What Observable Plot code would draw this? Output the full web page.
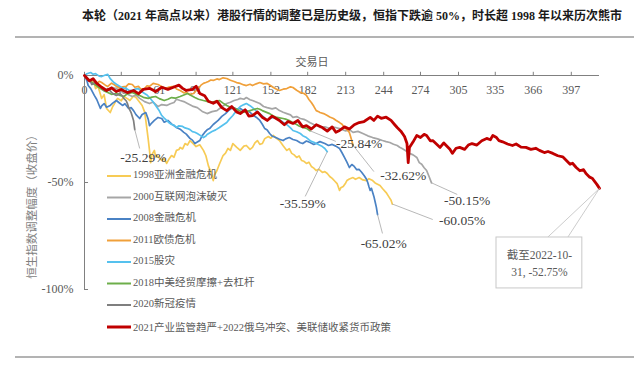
<!DOCTYPE html>
<html><head><meta charset="utf-8">
<script src="https://cdn.jsdelivr.net/npm/d3@7"></script>
<script src="https://cdn.jsdelivr.net/npm/@observablehq/plot@0.6"></script>
<style>body{margin:0;background:#fff;} svg{display:block}</style>
</head><body><div id="chart"></div>
<script>
// ---- data (trading day, % change from peak) ----
const s1998 = [[0,0],[2,-1.2],[5,-2.3],[7,-1.5],[9,-6.1],[11,-5],[14,-10.7],[16,-9],[18,-15.4],[21,-17.3],[23,-14.5],[24,-13.6],[26,-11.5],[27,-10.7],[30,-11.8],[32,-9.8],[35,-10.8],[37,-11.7],[40,-9.6],[42,-10.3],[45,-12.5],[47,-14],[49,-17],[50,-21],[52,-30],[53,-35],[54,-40.7],[55,-37],[57,-35],[58,-38],[59,-37.4],[61,-38.5],[63,-39.7],[65,-38.8],[67,-41.1],[69,-39],[71,-37.4],[73,-38.2],[75,-35],[77,-34.6],[78,-33.6],[80,-34.3],[82,-31.8],[84,-32.5],[86,-30.4],[88,-31.5],[91,-33.2],[94,-32.4],[97,-35],[99,-37.5],[101,-42.1],[103,-45],[105,-49.1],[106,-46.5],[108,-44.4],[110,-41.5],[113,-37.4],[115,-36.3],[117,-34.1],[119,-35],[121,-31.8],[124,-33.5],[127,-35],[130,-33],[132,-32.7],[135,-34.5],[137,-33.6],[139,-31.5],[141,-30.4],[143,-32.2],[145,-31.8],[147,-29.5],[150,-28.5],[152,-29.3],[154,-28],[156,-29.1],[159,-30.4],[162,-32.8],[165,-35],[167,-34.2],[169,-36.4],[171,-37.1],[173,-38.3],[175,-37.6],[177,-39.7],[179,-40.1],[181,-41.1],[183,-40.5],[185,-42.5],[187,-43.3],[189,-44.4],[191,-43.8],[194,-45.3],[196,-44.9],[198,-45.8],[200,-47.2],[202,-48.1],[204,-49.3],[206,-50.5],[208,-53.7],[209,-52.5],[211,-51.9],[213,-50.2],[214,-49.1],[216,-48.4],[219,-47.7],[221,-48.5],[224,-47.7],[227,-48.8],[230,-49.1],[232,-48.2],[235,-49.1],[237,-50.2],[239,-50.8],[241,-51.4],[243,-52.8],[246,-54.7],[248,-56.5],[250,-58.3],[251,-60.05]];
const s2000 = [[0,0],[3,-2],[6,-3.3],[9,-2.8],[13,-5.1],[16,-6.4],[19,-7],[22,-5.5],[26,-6.1],[29,-7.2],[32,-7.9],[35,-8.8],[39,-9.8],[42,-9.2],[45,-10.7],[49,-12.2],[53,-13.1],[56,-12.4],[60,-14.5],[63,-13.6],[67,-14],[70,-13.2],[73,-12.6],[75,-11.1],[78,-11.7],[81,-12.2],[84,-13.1],[88,-14.3],[92,-15],[96,-16.8],[100,-17.8],[104,-16.9],[108,-16.4],[112,-14.6],[116,-13.1],[119,-12.5],[122,-11.7],[125,-11.2],[127,-10.7],[130,-11.1],[132,-10.3],[135,-11.3],[137,-11.7],[140,-12.4],[143,-13.1],[146,-14.5],[149,-15],[153,-15.6],[156,-15.1],[159,-16.4],[162,-17.2],[165,-17.8],[168,-18.4],[170,-19.6],[173,-19.2],[176,-20.1],[179,-20.5],[181,-21],[184,-22.1],[187,-22.9],[190,-23.2],[192,-24.3],[196,-24],[200,-24.8],[204,-24.2],[208,-24.8],[213,-25.9],[216,-25.3],[219,-26.6],[223,-26.1],[227,-27.1],[231,-28.2],[235,-29],[239,-29.6],[243,-30.4],[246,-30.9],[249,-31.3],[252,-32.1],[255,-32.7],[257,-33.5],[259,-34.1],[262,-35.2],[265,-36.4],[268,-37.1],[271,-38.3],[273,-40.7],[275,-41.5],[277,-43.1],[279,-44.4],[281,-47.2],[283,-50.15]];
const s2008 = [[0,0],[2,-2.5],[3,-4.7],[5,-6],[8,-9.3],[10,-11.2],[13,-15.4],[14,-14.2],[16,-13.1],[18,-14.8],[21,-14],[23,-12.9],[26,-11.7],[28,-12.6],[31,-14],[33,-13.2],[36,-15.4],[38,-15],[40,-16.4],[42,-18.3],[45,-20.1],[47,-18.2],[50,-17.3],[52,-20.5],[53,-23.4],[55,-22.1],[57,-21],[60,-19.6],[63,-20.1],[65,-21.8],[68,-21],[71,-22.6],[75,-24.3],[78,-25.1],[81,-26.6],[83,-27.4],[86,-29.4],[88,-30.2],[90,-31.8],[92,-31.1],[94,-30.4],[96,-28.1],[98,-26.6],[100,-25.4],[102,-24.8],[105,-22.9],[109,-21],[112,-19.1],[115,-17.8],[118,-16.1],[121,-15],[124,-15.7],[127,-15.4],[130,-16.6],[132,-16.4],[135,-17.2],[138,-18.7],[140,-19.5],[143,-21],[145,-22.8],[147,-24.8],[149,-25.5],[151,-27.1],[153,-28.3],[156,-29],[159,-29.8],[162,-30.4],[164,-29.6],[167,-29],[170,-29.9],[173,-30.4],[176,-31.4],[178,-31.8],[181,-30.6],[184,-31.3],[187,-32.2],[189,-31.8],[192,-30.9],[196,-31.8],[199,-32.7],[202,-32.2],[205,-33],[208,-34.1],[210,-36.1],[212,-38.3],[214,-40.5],[216,-43],[218,-41.6],[220,-42.5],[222,-44],[224,-43.9],[226,-45.2],[228,-46.7],[230,-48.5],[231,-50],[232,-52],[233,-53.7],[234,-52.7],[236,-56.5],[237,-59],[238,-61.5],[239,-65.02]];
const s2011 = [[0,0],[2,-1.5],[5,-2.3],[7,-3.5],[9,-4.2],[12,-2.7],[14,-3.3],[17,-4.5],[19,-5.1],[22,-3.6],[24,-4.2],[27,-5.4],[29,-6.1],[31,-5.3],[34,-5.1],[36,-3.9],[39,-4.2],[41,-5.5],[44,-5.1],[46,-6.4],[49,-6.1],[51,-4.8],[53,-5.1],[56,-3.7],[60,-4.2],[63,-5.2],[66,-6.1],[69,-5.4],[73,-5.1],[75,-6.3],[78,-7],[81,-8.1],[83,-7.9],[86,-8.9],[89,-8.4],[91,-7.1],[93,-6.1],[95,-4.5],[97,-3.7],[99,-3.3],[101,-2.8],[103,-2.1],[105,-2.3],[108,-1.6],[110,-1.9],[113,-1.1],[116,-1.4],[119,-2.2],[122,-2.8],[124,-3.3],[127,-3.7],[130,-4.4],[132,-4.7],[135,-4.1],[137,-4.7],[140,-3.9],[143,-3.3],[146,-3.9],[149,-3.7],[152,-4.8],[154,-5.6],[157,-6.5],[159,-7],[162,-6.4],[165,-6.1],[168,-5.3],[170,-5.6],[173,-6.9],[176,-7.9],[179,-8.4],[181,-9.3],[183,-11.2],[185,-12.6],[187,-14.4],[189,-16.4],[191,-16.9],[192,-17.3],[195,-17.8],[198,-18.7],[200,-19.4],[203,-20.1],[205,-20.9],[208,-22],[210,-22.8],[212,-24.3],[214,-25.3],[216,-26.6],[217,-28.5],[218,-30.5],[219,-32.62]];
const s2015 = [[0,0],[2,0.8],[5,1.4],[7,0.6],[9,0.9],[12,-0.3],[14,-0.5],[17,0.2],[19,0.5],[21,-1.5],[24,-3.3],[26,-4.1],[29,-5.1],[31,-5.8],[34,-6.1],[36,-6.8],[39,-7],[41,-6.4],[44,-6.1],[46,-7.3],[49,-8.4],[51,-9.1],[53,-10.3],[56,-12.4],[58,-14],[61,-16.5],[63,-18.7],[65,-19.9],[67,-21],[69,-22.1],[71,-22.9],[73,-23.2],[75,-24.3],[77,-23.5],[80,-23.8],[82,-24.5],[84,-24.8],[86,-25.3],[88,-26.2],[90,-26.5],[92,-27.1],[95,-28.2],[97,-29],[99,-28.3],[100,-27.6],[102,-26.9],[104,-26.2],[107,-25.4],[110,-24.3],[113,-23.1],[116,-22],[118,-20.5],[121,-18.7],[124,-16.4],[127,-14.5],[130,-13.6],[132,-13.1],[135,-14.1],[137,-15],[140,-16.5],[143,-17.8],[146,-19.3],[149,-21],[151,-20.2],[154,-19.6],[157,-20.3],[159,-20.6],[162,-21.8],[165,-22.9],[168,-24.5],[170,-25.7],[173,-26.3],[176,-27.1],[178,-28.1],[181,-29],[183,-30],[185,-30.8],[187,-31.2],[189,-31.8],[192,-32.6],[194,-33.2],[196,-34.1],[198,-35.59]];
const s2018 = [[0,0],[3,-1.8],[6,-3.3],[9,-4.5],[13,-6.1],[16,-7.2],[19,-7.9],[22,-8.8],[26,-8.4],[29,-9.3],[32,-9.8],[35,-8.6],[39,-7.9],[42,-8.7],[45,-9.3],[48,-10.2],[52,-10.7],[55,-10.1],[58,-9.8],[61,-10.8],[65,-11.7],[68,-11.1],[71,-10.3],[74,-10.6],[78,-9.8],[81,-9.1],[84,-8.4],[87,-9.4],[90,-10.3],[93,-11.1],[97,-11.7],[100,-12.1],[103,-12.6],[106,-12.2],[110,-11.7],[113,-12.9],[116,-14],[119,-14.8],[123,-15.4],[126,-16.3],[129,-17.3],[132,-16.9],[135,-16.4],[138,-15.9],[141,-15.4],[143,-15.8],[145,-16.4],[148,-17.1],[151,-17.8],[154,-18.9],[157,-19.6],[159,-19.8],[162,-20.1],[164,-20.4],[167,-21],[170,-22.1],[173,-22.9],[175,-23.6],[178,-24.3],[181,-24.7],[184,-25.84]];
const s2020 = [[0,0],[2,-1.1],[3,-2.3],[5,-3.1],[6,-4.2],[8,-3.6],[9,-3.3],[11,-4.3],[13,-5.1],[15,-6.2],[16,-7],[18,-6.6],[19,-6.1],[21,-7.2],[22,-7.9],[24,-8.8],[26,-9.3],[28,-8.9],[29,-8.4],[31,-9.6],[32,-10.7],[34,-11.8],[35,-13.1],[36,-14.9],[38,-17.3],[39,-19.2],[40,-21],[41,-25.29]];
const s2021 = [[0,0],[4,-2.5],[7,-1.5],[10,-3.7],[14,-5.5],[18,-7],[22,-5.8],[26,-7.5],[30,-6.5],[35,-8],[40,-7],[44,-8.5],[48,-6.5],[53,-6],[58,-7.5],[63,-5.5],[68,-6.5],[72,-5.6],[77,-4.5],[80,-6],[83,-7],[88,-6.5],[91,-5],[94,-8.4],[98,-9.5],[101,-12],[105,-13],[108,-12],[112,-15],[116,-16.4],[120,-14.5],[124,-17],[127,-17.8],[131,-16],[134,-19],[137,-18.7],[141,-17],[145,-19.5],[149,-21],[153,-19],[156,-20],[159,-21],[163,-23],[166,-21.5],[170,-22.4],[174,-21],[178,-24],[181,-23.4],[185,-25],[189,-23],[194,-24.3],[198,-26],[202,-24],[205,-26.5],[208,-25.7],[212,-24],[216,-25],[220,-23],[224,-22],[228,-21.5],[233,-19.6],[236,-21],[239,-19],[242,-20],[246,-19.5],[250,-21],[253,-23],[255,-24.3],[258,-26],[261,-28.5],[263,-31.8],[264,-40.7],[265,-33.6],[268,-31],[271,-28],[274,-29],[277,-27.5],[279,-28],[282,-30.5],[284,-30.4],[287,-32],[290,-33.6],[293,-31.5],[295,-32.7],[298,-34.5],[300,-36.4],[303,-34],[306,-33.6],[310,-34.5],[313,-32.5],[316,-31.8],[320,-32.5],[324,-30.5],[328,-29.4],[331,-30],[333,-28],[336,-29],[338,-30.4],[341,-31],[345,-32],[349,-32.7],[352,-32],[356,-33.5],[360,-33.6],[364,-34.5],[368,-34],[371,-35],[375,-36],[378,-35.5],[382,-36.4],[386,-37.5],[390,-38],[393,-39.7],[396,-41.5],[398,-41],[401,-43],[404,-44.5],[407,-44],[409,-45.8],[412,-47.5],[414,-48],[416,-49.5],[418,-51],[420,-52.75]];

const seriesNames = ["1998亚洲金融危机","2000互联网泡沫破灭","2008金融危机","2011欧债危机","2015股灾","2018中美经贸摩擦+去杠杆","2020新冠疫情","2021产业监管趋严+2022俄乌冲突、美联储收紧货币政策"];
const seriesData = [s1998, s2000, s2008, s2011, s2015, s2018, s2020, s2021];
const seriesColors = ["#F7CB55","#A6A6A6","#4A82C4","#F0A03A","#55C1EE","#6DAE4A","#7F7F7F","#C00000"];

const xTicks = [0,30,61,91,121,152,182,213,244,274,305,335,366,397];
const yTicks = [0,-50,-100];

// end-value labels: text, label anchor (day, %), leader end (day, %)
const endLabelText = ["-60.05%","-50.15%","-65.02%","-32.62%","-35.59%","-25.84%","-25.29%"];
const endLabelPos = [[308,-67.8],[312,-58.4],[244,-78.5],[260,-46.7],[178,-59.8],[224,-31.8],[48,-38.3]];
const endLeaderPos = [[284,-67.3],[304,-55.6],[243,-73.8],[236,-44.9],[180,-56.5],[205,-30.8],[45,-34.1]];
const calloutLines = ["截至2022-10-","31, -52.75%"];

// ---- build tables ----
const rows = seriesData.flatMap((d, i) => d.map(([day, v]) => ({series: seriesNames[i], day, value: v})));
const last = seriesNames[7];
const annots = endLabelText.map((t, i) => {
  const e = seriesData[i][seriesData[i].length - 1];
  return {text: t, x0: e[0], y0: e[1], lx: endLabelPos[i][0], ly: endLabelPos[i][1], kx: endLeaderPos[i][0], ky: endLeaderPos[i][1]};
});
const redEnd = s2021[s2021.length - 1];
const box = {x1: 336, x2: 406, y1: -75.7, y2: -99.5};
const calloutLeaders = [{x1: redEnd[0], y1: redEnd[1], x2: 377.5, y2: box.y1}, {x1: redEnd[0], y1: redEnd[1], x2: 394, y2: box.y1}];
const calloutText = calloutLines.map((t, i) => ({t, x: 371, y: -84.1 - i * 8}));

const serif = "'Liberation Serif','Noto Sans CJK SC',serif";

const chart = Plot.plot({
  width: 640, height: 376,
  marginLeft: 84, marginRight: 41, marginTop: 75, marginBottom: 87,
  x: {domain: [0, 420], axis: null},
  y: {domain: [-100, 0], axis: null},
  color: {domain: seriesNames, range: seriesColors},
  style: {fontFamily: serif, background: "#fff", overflow: "visible"},
  marks: [
    Plot.text(xTicks, {x: d => d, y: 0, text: d => String(d), dy: 15, fill: "#595959", fontSize: 12}),
    Plot.axisY({ticks: yTicks, tickSize: 0, tickPadding: 11, tickFormat: d => d + "%", fontSize: 12, fill: "#595959"}),
    Plot.ruleY([0], {x1: 0, x2: 420, stroke: "#808080", strokeWidth: 1}),
    Plot.ruleX([0], {y1: -100, y2: 0, stroke: "#808080", strokeWidth: 1}),
    Plot.ruleX(xTicks, {y1: 0, y2: 1.5, stroke: "#808080"}),
    Plot.ruleY(yTicks, {x1: 0, x2: 3.3, stroke: "#808080"}),
    Plot.line(rows.filter(d => d.series !== last), {x: "day", y: "value", z: "series", stroke: "series", strokeWidth: 1.7, curve: "linear"}),
    Plot.line(rows.filter(d => d.series === last), {x: "day", y: "value", z: "series", stroke: "series", strokeWidth: 2.8, curve: "linear"}),
    Plot.link(annots, {x1: "x0", y1: "y0", x2: "kx", y2: "ky", stroke: "#A6A6A6", strokeWidth: 0.8}),
    Plot.text(annots, {x: "lx", y: "ly", text: "text", fill: "#404040", fontSize: 13.5}),
    Plot.link(calloutLeaders, {x1: "x1", y1: "y1", x2: "x2", y2: "y2", stroke: "#BFBFBF", strokeWidth: 0.8}),
    Plot.rect([box], {x1: "x1", x2: "x2", y1: "y1", y2: "y2", fill: "#fff", stroke: "#C8C8C8", strokeWidth: 1}),
    Plot.text(calloutText, {x: "x", y: "y", text: "t", fill: "#595959", fontSize: 11.5})
  ]
});
document.getElementById("chart").appendChild(chart);

// ---- title, rules, axis titles, legend ----
const svg = d3.select(chart);
svg.append("text").attr("x", 352).attr("y", 17).attr("text-anchor", "middle").attr("dominant-baseline", "middle")
  .attr("font-family", serif).attr("font-weight", "bold").attr("font-size", 12).attr("fill", "#1a1a1a")
  .text("本轮（2021 年高点以来）港股行情的调整已是历史级，恒指下跌逾 50%，时长超 1998 年以来历次熊市");
svg.append("line").attr("x1", 15).attr("x2", 634).attr("y1", 37).attr("y2", 37).attr("stroke", "#9a9a9a").attr("stroke-width", 1.5);
svg.append("line").attr("x1", 15).attr("x2", 634).attr("y1", 357).attr("y2", 357).attr("stroke", "#9a9a9a").attr("stroke-width", 1.5);
svg.append("text").attr("x", 312).attr("y", 63).attr("text-anchor", "middle").attr("dominant-baseline", "middle")
  .attr("font-family", serif).attr("font-size", 11).attr("fill", "#595959").text("交易日");
svg.append("text").attr("transform", "translate(33,204) rotate(-90)").attr("text-anchor", "middle").attr("dominant-baseline", "middle")
  .attr("font-family", serif).attr("font-size", 11.5).attr("fill", "#7f7f7f").text("恒生指数调整幅度（收盘价）");

const legendY = [176, 197.5, 219, 240.5, 262, 283.5, 305, 327];
const lg = svg.append("g").attr("text-anchor", "start");
seriesNames.forEach((n, i) => {
  lg.append("line").attr("x1", 107).attr("x2", 131).attr("y1", legendY[i]).attr("y2", legendY[i])
    .attr("stroke", seriesColors[i]).attr("stroke-width", i === 7 ? 3 : 2);
  lg.append("text").attr("x", 133).attr("y", legendY[i] + (i === 7 ? 2 : 0)).attr("dominant-baseline", "middle")
    .attr("text-anchor", "start")
    .attr("font-family", serif).attr("font-size", 10.5).attr("fill", "#595959").text(n);
});
</script>
</body></html>
